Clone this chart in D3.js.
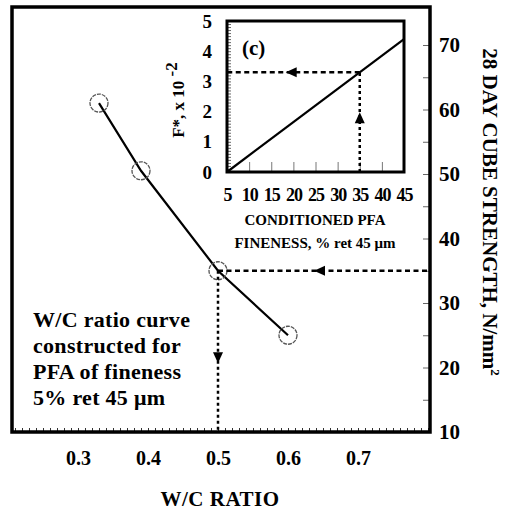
<!DOCTYPE html>
<html>
<head>
<meta charset="utf-8">
<script src="https://cdn.jsdelivr.net/npm/d3@7"></script>
<style>
  body { margin: 0; background: #fff; }
  text { font-family: "Liberation Serif", "Times New Roman", serif; font-weight: bold; fill: #000; }
</style>
</head>
<body>
<svg></svg>
<script>
// main chart: W/C ratio vs 28 day cube strength
const wcRatio = [0.33, 0.39, 0.5, 0.6];
const strength = [61, 50.5, 35, 25];
const xTicks = [0.3, 0.4, 0.5, 0.6, 0.7];
const yTicks = [10, 20, 30, 40, 50, 60, 70];

// inset (c): conditioned PFA fineness vs F*
const fineness = [5, 45];
const fStar = [0, 4.4];
const insetXTicks = [5, 10, 15, 20, 25, 30, 35, 40, 45];
const insetYTicks = [0, 1, 2, 3, 4, 5];

// reading path
const readFineness = 35;
const readWC = 0.5;
const readStrength = 35;

const noteLines = ['W/C ratio curve', 'constructed for', 'PFA of fineness', '5% ret 45 \u03bcm'];

const svg = d3.select('svg')
              .attr('width', 508)
              .attr('height', 513);

const mLeft = 12, mRight = 430, mTop = 7, mBottom = 432;

const x = d3.scaleLinear()
            .domain([0.2, 0.8])
            .range([8, 428]);

const y = d3.scaleLinear()
            .domain([10, 70])
            .range([432, 45]);

const iLeft = 227, iRight = 404, iTop = 21, iBottom = 172;

const ix = d3.scaleLinear()
             .domain([5, 45])
             .range([iLeft, iRight]);

const iy = d3.scaleLinear()
             .domain([0, 5])
             .range([iBottom, iTop]);

// minor ticks along the bottom of the main frame
svg.append('g')
   .attr('transform', `translate(0,${mBottom})`)
   .call(d3.axisBottom(x).tickValues(d3.range(0.21, 0.8, 0.01)).tickSize(-4).tickFormat(''))
   .call(g => g.select('.domain').remove())
   .selectAll('line').attr('stroke', '#333');

// inner ticks on the right edge
svg.append('g')
   .attr('transform', `translate(${mRight},0)`)
   .call(d3.axisLeft(y).tickValues(d3.range(15, 75, 5)).tickSize(7).tickFormat(''))
   .call(g => g.select('.domain').remove())
   .selectAll('line').attr('stroke', '#666');

// x tick labels
svg.append('g')
   .attr('transform', `translate(0,${mBottom})`)
   .call(d3.axisBottom(x).tickValues(xTicks).tickSize(0).tickPadding(19).tickFormat(d3.format('.1f')))
   .call(g => g.select('.domain').remove())
   .selectAll('text').style('font-size', '20px');

// y tick labels on the right
svg.append('g')
   .attr('transform', `translate(${mRight},0)`)
   .call(d3.axisRight(y).tickValues(yTicks).tickSize(0).tickPadding(9))
   .call(g => g.select('.domain').remove())
   .selectAll('text').style('font-size', '21px');

svg.append('text')
   .attr('x', 220)
   .attr('y', 506)
   .attr('text-anchor', 'middle')
   .style('font-size', '21px')
   .style('letter-spacing', '0.5px')
   .text('W/C RATIO');

svg.append('text')
   .attr('transform', 'translate(483,212) rotate(90)')
   .attr('text-anchor', 'middle')
   .style('font-size', '21px')
   .html('28 DAY CUBE STRENGTH, N/mm<tspan dy="-8" style="font-size:13px">2</tspan>');

// main frame
svg.append('rect')
   .attr('x', mLeft).attr('y', mTop)
   .attr('width', mRight - mLeft).attr('height', mBottom - mTop)
   .attr('fill', 'none').attr('stroke', '#000').attr('stroke-width', 3.5);

// W/C curve
const pts = wcRatio.map((d, i) => [d, strength[i]]);
svg.append('path')
   .datum(pts)
   .attr('fill', 'none')
   .attr('stroke', '#000')
   .attr('stroke-width', 2.2)
   .attr('d', d3.line().x(d => x(d[0])).y(d => y(d[1])));

svg.selectAll('circle.pt')
   .data(pts)
   .enter()
   .append('circle')
   .attr('class', 'pt')
   .attr('cx', d => x(d[0]))
   .attr('cy', d => y(d[1]))
   .attr('r', 9)
   .attr('fill', 'none')
   .attr('stroke', '#555')
   .attr('stroke-width', 1.3)
   .attr('stroke-dasharray', '4,1');

// dashed reading lines on main chart
const dash = '5,3.5';
svg.append('line')
   .attr('x1', x(readWC)).attr('y1', y(readStrength))
   .attr('x2', mRight).attr('y2', y(readStrength))
   .attr('stroke', '#000').attr('stroke-width', 2.5).attr('stroke-dasharray', dash);
svg.append('line')
   .attr('x1', x(readWC)).attr('y1', y(readStrength))
   .attr('x2', x(readWC)).attr('y2', mBottom)
   .attr('stroke', '#000').attr('stroke-width', 2.5).attr('stroke-dasharray', '3,3');

function arrow(px, py, dir) {
  // dir: 'left', 'down', 'up'
  const L = 11, W = 5;
  let p;
  if (dir === 'left') p = [[px - L / 2, py], [px + L / 2, py - W], [px + L / 2, py + W]];
  if (dir === 'down') p = [[px, py + L / 2], [px - W, py - L / 2], [px + W, py - L / 2]];
  if (dir === 'up') p = [[px, py - L / 2], [px - W, py + L / 2], [px + W, py + L / 2]];
  svg.append('path').attr('d', 'M' + p.join('L') + 'Z').attr('fill', '#000');
}
arrow(x(0.645), y(readStrength), 'left');
arrow(x(readWC), y(21.5), 'down');

// note text
svg.append('g')
   .selectAll('text')
   .data(noteLines)
   .enter()
   .append('text')
   .attr('x', 33)
   .attr('y', (d, i) => 327 + i * 26)
   .style('font-size', '22px')
   .style('letter-spacing', '0.3px')
   .text(d => d);

// ---- inset ----
svg.append('g')
   .attr('transform', `translate(0,${iBottom})`)
   .call(d3.axisBottom(ix).tickValues(insetXTicks).tickSize(-10).tickFormat(''))
   .call(g => g.select('.domain').remove())
   .selectAll('line').attr('stroke', '#777');

svg.append('g')
   .attr('transform', `translate(${iLeft},0)`)
   .call(d3.axisRight(iy).ticks(50).tickSize(4).tickFormat(''))
   .call(g => g.select('.domain').remove())
   .selectAll('line').attr('stroke', '#666');

svg.append('g')
   .attr('transform', `translate(0,${iBottom})`)
   .call(d3.axisBottom(ix).tickValues(insetXTicks).tickSize(0).tickPadding(16))
   .call(g => g.select('.domain').remove())
   .selectAll('text').style('font-size', '18px').style('letter-spacing', '-1px');

svg.append('g')
   .attr('transform', `translate(${iLeft},0)`)
   .call(d3.axisLeft(iy).tickValues(insetYTicks).tickSize(0).tickPadding(15).tickFormat(d3.format('d')))
   .call(g => g.select('.domain').remove())
   .selectAll('text').style('font-size', '19px');

svg.append('text')
   .attr('transform', 'translate(184,100) rotate(-90)')
   .attr('text-anchor', 'middle')
   .style('font-size', '17px')
   .html('F*, x 10 <tspan dy="-7">-2</tspan>');

svg.append('text')
   .attr('x', 315).attr('y', 225)
   .attr('text-anchor', 'middle')
   .style('font-size', '15px')
   .text('CONDITIONED PFA');
svg.append('text')
   .attr('x', 315).attr('y', 248)
   .attr('text-anchor', 'middle')
   .style('font-size', '15px')
   .html('FINENESS, % ret 45 \u03bcm');

svg.append('rect')
   .attr('x', iLeft).attr('y', iTop)
   .attr('width', iRight - iLeft).attr('height', iBottom - iTop)
   .attr('fill', 'none').attr('stroke', '#000').attr('stroke-width', 3);

svg.append('path')
   .datum(fineness.map((d, i) => [d, fStar[i]]))
   .attr('fill', 'none')
   .attr('stroke', '#000')
   .attr('stroke-width', 2.2)
   .attr('d', d3.line().x(d => ix(d[0])).y(d => iy(d[1])));

const readF = fStar[0] + (fStar[1] - fStar[0]) * (readFineness - fineness[0]) / (fineness[1] - fineness[0]);
svg.append('line')
   .attr('x1', ix(readFineness)).attr('y1', iy(readF))
   .attr('x2', iLeft).attr('y2', iy(readF))
   .attr('stroke', '#000').attr('stroke-width', 2.5).attr('stroke-dasharray', dash);
svg.append('line')
   .attr('x1', ix(readFineness)).attr('y1', iBottom)
   .attr('x2', ix(readFineness)).attr('y2', iy(readF))
   .attr('stroke', '#000').attr('stroke-width', 2.5).attr('stroke-dasharray', '3,3');
arrow(ix(19.5), iy(readF), 'left');
arrow(ix(readFineness), iy(1.8), 'up');

svg.append('text')
   .attr('x', 242).attr('y', 55)
   .style('font-size', '21px')
   .text('(c)');
</script>
</body>
</html>
